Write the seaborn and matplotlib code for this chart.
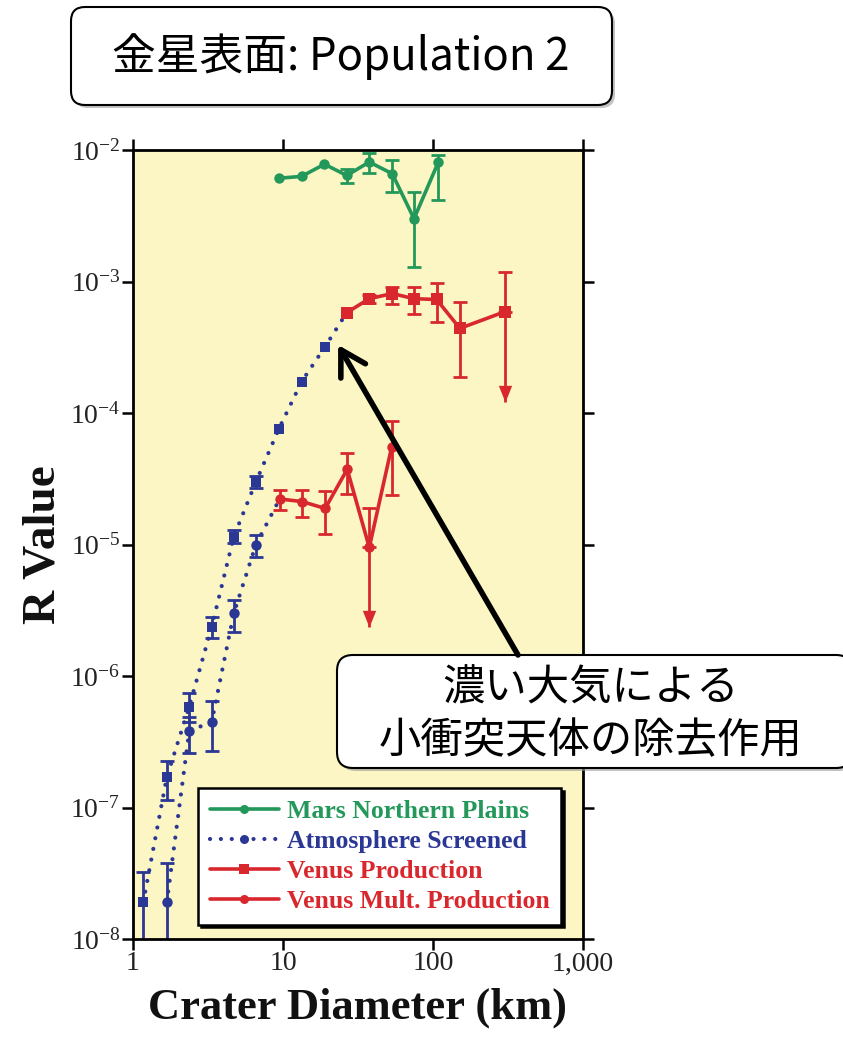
import numpy as np
import pandas as pd
import matplotlib
matplotlib.use("Agg")
import matplotlib.pyplot as plt
import seaborn as sns
from matplotlib.lines import Line2D
from matplotlib.patches import FancyBboxPatch
from matplotlib.path import Path
from matplotlib.ticker import FixedLocator, FixedFormatter, NullLocator

# ---------------- data ----------------
mars_d = [9.4, 13.3, 18.9, 26.6, 37.6, 53.5, 74.7, 108.6]
mars_r = [6.1e-3, 6.3e-3, 7.8e-3, 6.4e-3, 8.1e-3, 6.6e-3, 3.0e-3, 8.1e-3]
mars_lo = [6.1e-3, 6.3e-3, 7.8e-3, 5.6e-3, 6.7e-3, 4.8e-3, 1.3e-3, 4.2e-3]
mars_hi = [6.1e-3, 6.3e-3, 7.8e-3, 7.2e-3, 9.5e-3, 8.4e-3, 4.8e-3, 9.2e-3]

vp_d = [26.6, 37.6, 53.5, 74.7, 105.7, 151, 302]
vp_r = [5.8e-4, 7.4e-4, 8.1e-4, 7.4e-4, 7.3e-4, 4.4e-4, 5.9e-4]
vp_lo = [5.8e-4, 6.9e-4, 6.8e-4, 5.7e-4, 4.9e-4, 1.89e-4, 1.22e-4]
vp_hi = [5.8e-4, 7.9e-4, 9.1e-4, 9.1e-4, 9.7e-4, 7.0e-4, 1.19e-3]
vp_limit = [False, False, False, False, False, False, True]

vm_d = [9.5, 13.4, 19.1, 26.8, 37.6, 53]
vm_r = [2.22e-5, 2.12e-5, 1.88e-5, 3.73e-5, 9.5e-6, 5.5e-5]
vm_lo = [1.83e-5, 1.61e-5, 1.2e-5, 2.42e-5, 2.37e-6, 2.38e-5]
vm_hi = [2.6e-5, 2.6e-5, 2.57e-5, 4.99e-5, 1.89e-5, 8.7e-5]
vm_limit = [False, False, False, False, True, False]

atm1_d = [1.17, 1.68, 2.37, 3.35, 4.7, 6.6, 9.4, 13.3, 19.1]
atm1_r = [1.9e-8, 1.7e-7, 5.85e-7, 2.37e-6, 1.15e-5, 3.0e-5, 7.6e-5, 1.73e-4, 3.2e-4]
atm1_lo = [5e-9, 1.14e-7, 4.5e-7, 1.94e-6, 1.03e-5, 2.7e-5, 7.6e-5, 1.73e-4, 3.2e-4]
atm1_hi = [3.25e-8, 2.24e-7, 7.4e-7, 2.83e-6, 1.29e-5, 3.3e-5, 7.6e-5, 1.73e-4, 3.2e-4]

atm2_d = [1.68, 2.37, 3.35, 4.7, 6.6]
atm2_r = [1.9e-8, 3.8e-7, 4.5e-7, 3.0e-6, 1.0e-5]
atm2_lo = [5e-9, 2.6e-7, 2.67e-7, 2.17e-6, 8.1e-6]
atm2_hi = [3.77e-8, 4.9e-7, 6.4e-7, 3.79e-6, 1.18e-5]

x_ticks = [1, 10, 100, 1000]
x_labels = ["1", "10", "100", "1,000"]
y_ticks = [1e-8, 1e-7, 1e-6, 1e-5, 1e-4, 1e-3, 1e-2]
y_labels = [r"$\mathregular{10^{-%d}}$" % k for k in [8, 7, 6, 5, 4, 3, 2]]

legend_labels = ["Mars Northern Plains", "Atmosphere Screened",
                 "Venus Production", "Venus Mult. Production"]
title_text = "金星表面: Population 2"
note_lines = ["濃い大気による", "小衝突天体の除去作用"]
arrow_tip = (23.3, 3.29e-4)  # data point the arrow points at

# ---------------- style ----------------
GREEN = "#23985a"
BLUE = "#2b3794"
RED = "#d8282e"
YELLOW = "#fcf6c4"

sns.set_theme(style="ticks")
plt.rcParams["font.family"] = ["Liberation Serif", "DejaVu Sans"]
plt.rcParams["mathtext.fontset"] = "custom"
plt.rcParams["mathtext.rm"] = "Liberation Serif"
plt.rcParams["mathtext.it"] = "Liberation Serif:italic"
plt.rcParams["mathtext.bf"] = "Liberation Serif:bold"

W, H = 843, 1048
fig = plt.figure(figsize=(W / 100, H / 100), dpi=100)
fig.patch.set_facecolor("white")
ax = fig.add_axes([133 / W, 1 - 939 / H, 450 / W, 789 / H])
ax.set_facecolor(YELLOW)
ax.set_xscale("log")
ax.set_yscale("log")

dotted = (0, (0.01, 2.6))


def line(xs, ys, color, ls="-", lw=2.6, marker=None, ms=7, z=3):
    df = pd.DataFrame({"x": xs, "y": ys})
    kw = dict(color=color, linewidth=lw, linestyle=ls, zorder=z,
              dash_capstyle="round", solid_capstyle="round")
    if marker is not None:
        kw.update(marker=marker, markersize=ms, markeredgewidth=0)
    sns.lineplot(data=df, x="x", y="y", ax=ax, sort=False, estimator=None,
                 errorbar=None, legend=False, **kw)


def errs(xs, ys, lo, hi, color, limit=None, z=2.5):
    xs = np.array(xs); ys = np.array(ys); lo = np.array(lo); hi = np.array(hi)
    if limit is None:
        limit = np.zeros(len(xs), bool)
    limit = np.array(limit)
    m = ((hi > ys) | (lo < ys)) & ~limit
    if m.any():
        ax.errorbar(xs[m], ys[m], yerr=[ys[m] - lo[m], hi[m] - ys[m]], fmt="none",
                    ecolor=color, elinewidth=2.0, capsize=5, capthick=2.0, zorder=z)
    if limit.any():
        ax.errorbar(xs[limit], ys[limit], yerr=[np.zeros(limit.sum()), hi[limit] - ys[limit]],
                    fmt="none", ecolor=color, elinewidth=2.0, capsize=5, capthick=2.0, zorder=z)
        ax.vlines(xs[limit], lo[limit], ys[limit], color=color, lw=2.0, zorder=z)
        tri = Path([(-0.4, 1.0), (0.4, 1.0), (0.0, 0.0), (-0.4, 1.0)],
                   [Path.MOVETO, Path.LINETO, Path.LINETO, Path.CLOSEPOLY])
        ax.plot(xs[limit], lo[limit], linestyle="none", marker=tri, markersize=24,
                color=color, markeredgewidth=0, zorder=z)


# atmosphere screened (dotted, connects to the Venus curves)
line(atm1_d + [vp_d[0]], atm1_r + [vp_r[0]], BLUE, ls=dotted, lw=3.0, z=2)
line(atm2_d + [vm_d[0]], atm2_r + [vm_r[0]], BLUE, ls=dotted, lw=3.0, z=2)
errs(atm1_d, atm1_r, atm1_lo, atm1_hi, BLUE)
errs(atm2_d, atm2_r, atm2_lo, atm2_hi, BLUE)
ax.plot(atm1_d, atm1_r, linestyle="none", marker="s", markersize=7.5, color=BLUE,
        markeredgewidth=0, zorder=3)
ax.plot(atm2_d, atm2_r, linestyle="none", marker="o", markersize=7.5, color=BLUE,
        markeredgewidth=0, zorder=3)

# Mars
errs(mars_d, mars_r, mars_lo, mars_hi, GREEN)
line(mars_d, mars_r, GREEN, marker="o", ms=7.5, z=4)

# Venus production
errs(vp_d, vp_r, vp_lo, vp_hi, RED, vp_limit)
line(vp_d, vp_r, RED, marker="s", ms=8, z=4)

# Venus mult production
errs(vm_d, vm_r, vm_lo, vm_hi, RED, vm_limit)
line(vm_d, vm_r, RED, marker="o", ms=7.5, z=4)

# axes styling
ax.set_xlim(1, 1000)
ax.set_ylim(1e-8, 1e-2)
ax.xaxis.set_major_locator(FixedLocator(x_ticks))
ax.xaxis.set_major_formatter(FixedFormatter(x_labels))
ax.yaxis.set_major_locator(FixedLocator(y_ticks))
ax.yaxis.set_major_formatter(FixedFormatter(y_labels))
ax.xaxis.set_minor_locator(NullLocator())
ax.yaxis.set_minor_locator(NullLocator())
ax.tick_params(which="major", direction="out", length=8, width=1.8, color="black",
               top=True, right=True, labeltop=False, labelright=False,
               labelsize=20, labelcolor="#222222", pad=1)
for s in ax.spines.values():
    s.set_linewidth(2.0)
    s.set_color("black")
ax.set_xlabel("Crater Diameter (km)", fontsize=32, fontweight="bold", labelpad=8,
              color="#111111")
ax.set_ylabel("R Value", fontsize=34, fontweight="bold", labelpad=4, color="#111111")

# legend
handles = [
    Line2D([], [], color=GREEN, lw=2.6, marker="o", ms=6.5, markeredgewidth=0),
    Line2D([], [], color=BLUE, lw=3.0, linestyle=dotted, dash_capstyle="round",
           marker="o", ms=6.5, markeredgewidth=0),
    Line2D([], [], color=RED, lw=2.6, marker="s", ms=6.5, markeredgewidth=0),
    Line2D([], [], color=RED, lw=2.6, marker="o", ms=6.5, markeredgewidth=0),
]
leg = ax.legend(handles, legend_labels, loc="upper left",
                bbox_to_anchor=((198 - 133) / 450, (939 - 788) / 789),
                borderaxespad=0, frameon=True, fancybox=False,
                shadow={"color": "black", "alpha": 1.0},
                prop={"family": "Liberation Serif", "weight": "bold", "size": 18.5},
                labelcolor=[GREEN, BLUE, RED, RED], handlelength=2.7,
                handletextpad=0.3, labelspacing=0.28, borderpad=0.45)
leg.get_frame().set_edgecolor("black")
leg.get_frame().set_linewidth(1.8)
leg.get_frame().set_facecolor("white")
leg.set_zorder(6)

# overlay in pixel coordinates for callout boxes
ov = fig.add_axes([0, 0, 1, 1])
ov.set_xlim(0, W)
ov.set_ylim(H, 0)
ov.axis("off")
ov.set_zorder(10)

jp = ["Noto Sans CJK JP", "DejaVu Sans"]

# title box
ov.add_patch(FancyBboxPatch((74, 10), 541, 98, boxstyle="round,pad=0,rounding_size=14",
                            fc="#9a9a9a", ec="none", alpha=0.6))
ov.add_patch(FancyBboxPatch((71, 7), 541, 98, boxstyle="round,pad=0,rounding_size=14",
                            fc="white", ec="black", lw=1.5))
ov.text(341, 57, title_text, ha="center", va="center", fontsize=31.5, family=jp,
        color="black")

# arrow
ov.annotate("", xy=arrow_tip, xycoords=ax.transData, xytext=(518, 655),
            textcoords="data",
            arrowprops=dict(arrowstyle="->,head_length=0.55,head_width=0.32",
                            mutation_scale=32, lw=4, color="black",
                            shrinkA=0, shrinkB=0))

# note box
ov.add_patch(FancyBboxPatch((340, 658), 515, 113, boxstyle="round,pad=0,rounding_size=16",
                            fc="#9a9a9a", ec="none", alpha=0.6))
ov.add_patch(FancyBboxPatch((337, 655), 515, 113, boxstyle="round,pad=0,rounding_size=16",
                            fc="white", ec="black", lw=1.5))
ov.text(591, 689, note_lines[0], ha="center", va="center", fontsize=30.5, family=jp,
        color="black")
ov.text(591, 741, note_lines[1], ha="center", va="center", fontsize=30.5, family=jp,
        color="black")

fig.savefig("out.png", dpi=100)
